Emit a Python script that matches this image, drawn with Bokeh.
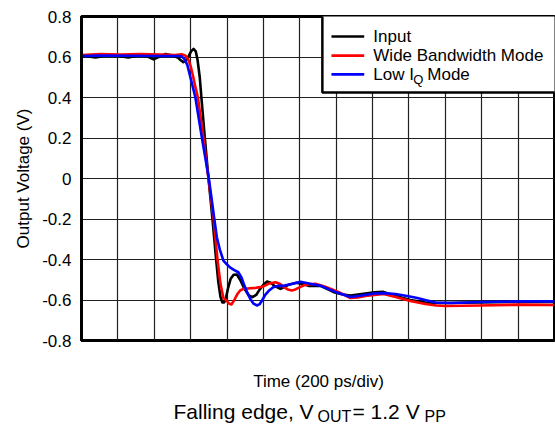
from bokeh.plotting import figure
from bokeh.models import Range1d, FixedTicker, Grid
from bokeh.layouts import column
from bokeh.core.properties import value
from bokeh.embed import file_html
from bokeh.resources import INLINE

FONT = "Liberation Sans"

# time in divisions (200 ps/div)
t_input = [0, 0.2, 0.385, 0.55, 0.66, 0.85, 1.02, 1.15, 1.29, 1.45, 1.62, 1.8, 1.98, 2.15, 2.31,
           2.5, 2.64, 2.72, 2.80, 2.87, 2.94, 3.01, 3.08, 3.14, 3.19, 3.25, 3.30, 3.39, 3.49, 3.60,
           3.70, 3.76, 3.82, 3.87, 3.92, 3.97, 4.03, 4.10, 4.18, 4.27, 4.36, 4.48, 4.60, 4.70, 4.80,
           4.89, 5.00, 5.10, 5.20, 5.30, 5.47, 5.69, 5.91, 6.10, 6.24, 6.57, 6.92, 7.15, 7.39, 7.60,
           7.80, 8.05, 8.30, 8.63, 9.04, 9.45, 9.75, 10.0, 10.96, 12.06, 13.0]
v_input = [0.605, 0.603, 0.598, 0.603, 0.607, 0.607, 0.605, 0.602, 0.598, 0.604, 0.612, 0.603, 0.588,
           0.602, 0.615, 0.607, 0.598, 0.585, 0.575, 0.582, 0.602, 0.628, 0.640, 0.628, 0.585, 0.500,
           0.390, 0.200, 0.0, -0.200, -0.400, -0.510, -0.585, -0.612, -0.612, -0.590, -0.540, -0.495,
           -0.475, -0.474, -0.500, -0.545, -0.578, -0.586, -0.575, -0.550, -0.525, -0.509, -0.515,
           -0.530, -0.545, -0.525, -0.515, -0.522, -0.530, -0.530, -0.560, -0.572, -0.578, -0.573,
           -0.568, -0.562, -0.560, -0.580, -0.600, -0.612, -0.615, -0.615, -0.612, -0.608, -0.610]

t_wide = [0, 0.52, 1.07, 1.62, 2.17, 2.58, 2.75, 2.85, 2.93, 3.00, 3.06, 3.12, 3.20, 3.35, 3.49,
          3.63, 3.74, 3.82, 3.90, 3.97, 4.05, 4.12, 4.20, 4.28, 4.36, 4.45, 4.56, 4.78, 4.97, 5.14,
          5.33, 5.45, 5.55, 5.67, 5.78, 5.88, 5.96, 6.15, 6.43, 6.70, 7.06, 7.39, 7.60, 7.80, 8.05,
          8.30, 8.63, 9.04, 9.45, 9.75, 10.0, 10.96, 12.06, 13.0]
v_wide = [0.610, 0.615, 0.612, 0.615, 0.612, 0.610, 0.613, 0.608, 0.590, 0.555, 0.510, 0.460, 0.400,
          0.200, 0.0, -0.200, -0.405, -0.520, -0.590, -0.600, -0.617, -0.622, -0.600, -0.572, -0.553,
          -0.545, -0.543, -0.540, -0.535, -0.520, -0.512, -0.520, -0.535, -0.548, -0.553, -0.548,
          -0.540, -0.525, -0.520, -0.535, -0.560, -0.590, -0.588, -0.580, -0.575, -0.570, -0.585,
          -0.605, -0.620, -0.627, -0.630, -0.627, -0.623, -0.625]

t_lowiq = [0, 0.52, 1.35, 2.17, 2.66, 2.75, 2.83, 2.91, 3.02, 3.13, 3.31, 3.50, 3.65, 3.72, 3.80,
           3.90, 4.00, 4.09, 4.20, 4.31, 4.40, 4.48, 4.56, 4.64, 4.73, 4.82, 4.90, 4.97, 5.05, 5.14,
           5.27, 5.41, 5.55, 5.80, 6.02, 6.29, 6.57, 6.98, 7.39, 7.60, 7.80, 8.05, 8.30, 8.63, 8.95,
           9.23, 9.50, 9.73, 10.14, 10.96, 12.06, 13.0]
v_lowiq = [0.605, 0.607, 0.606, 0.605, 0.605, 0.603, 0.590, 0.560, 0.480, 0.400, 0.200, 0.0, -0.200,
           -0.290, -0.350, -0.405, -0.425, -0.440, -0.452, -0.463, -0.490, -0.530, -0.565, -0.595,
           -0.618, -0.627, -0.620, -0.600, -0.575, -0.556, -0.537, -0.530, -0.530, -0.520, -0.510,
           -0.520, -0.530, -0.560, -0.585, -0.580, -0.575, -0.568, -0.566, -0.570, -0.580, -0.590,
           -0.602, -0.612, -0.615, -0.610, -0.607, -0.607]

y_ticks = [-0.8, -0.6, -0.4, -0.2, 0.0, 0.2, 0.4, 0.6, 0.8]
y_labels = ["-0.8", "-0.6", "-0.4", "-0.2", "0", "0.2", "0.4", "0.6", "0.8"]
x_grid = list(range(0, 14))

series_names = ["Input", "Wide Bandwidth Mode", "Low I"]
series_colors = ["black", "#FF0000", "#0000FF"]

TOP_H = 352
p = figure(width=555, height=TOP_H, output_backend="svg", toolbar_location=None,
           x_range=Range1d(0, 13), y_range=Range1d(-0.8, 0.8), x_axis_type=None,
           min_border_left=81, min_border_top=16, min_border_right=1, min_border_bottom=TOP_H - 340)
p.background_fill_color = "white"
p.border_fill_color = "white"
p.outline_line_color = "black"
p.outline_line_width = 3

p.yaxis.ticker = FixedTicker(ticks=y_ticks)
p.yaxis.major_label_overrides = {t: l for t, l in zip(y_ticks, y_labels)}
p.yaxis.major_tick_out = 0
p.yaxis.major_tick_in = 0
p.yaxis.minor_tick_out = 0
p.yaxis.minor_tick_in = 0
p.yaxis.axis_line_color = "black"
p.yaxis.axis_line_width = 3
p.yaxis.major_label_text_font = FONT
p.yaxis.major_label_text_font_size = "17px"
p.yaxis.major_label_text_color = "black"
p.yaxis.major_label_standoff = 10
p.yaxis.axis_label = "Output Voltage (V)"
p.yaxis.axis_label_text_font = FONT
p.yaxis.axis_label_text_font_size = "17px"
p.yaxis.axis_label_text_font_style = "normal"
p.yaxis.axis_label_text_color = "black"
p.yaxis.axis_label_standoff = 6

p.ygrid.grid_line_color = "#202020"
p.ygrid.grid_line_width = 1.2
p.add_layout(Grid(dimension=0, ticker=FixedTicker(ticks=x_grid), grid_line_color="#202020",
                  grid_line_width=1.2))

p.line(t_input, v_input, line_color=series_colors[0], line_width=2.6, line_join="round")
p.line(t_wide, v_wide, line_color=series_colors[1], line_width=2.6, line_join="round")
p.line(t_lowiq, v_lowiq, line_color=series_colors[2], line_width=2.6, line_join="round")

# legend box
p.quad(left=[6.62], right=[13.3], bottom=[0.425], top=[0.85], fill_color="white",
       line_color="black", line_width=2.5)
rows_y = [0.701, 0.607, 0.514]
for name, color, ry in zip(series_names, series_colors, rows_y):
    p.line([6.87, 7.77], [ry, ry], line_color=color, line_width=2.6)
    p.text(x=[8.02], y=[ry], text=[name], text_font=value(FONT), text_font_size="17px",
           text_baseline="middle", text_color="black")
p.text(x=[8.02], y=[rows_y[2]], text=["Q"], x_offset=40, y_offset=5, text_font=value(FONT),
       text_font_size="13px", text_baseline="middle", text_color="black")
p.text(x=[8.02], y=[rows_y[2]], text=[" Mode"], x_offset=54, text_font=value(FONT),
       text_font_size="17px", text_baseline="middle", text_color="black")

# lower panel (page pixel coordinates): x axis label and caption
BOT_H = 74
p2 = figure(width=555, height=BOT_H, output_backend="svg", toolbar_location=None,
            x_range=Range1d(81, 554), y_range=Range1d(TOP_H + BOT_H, TOP_H),
            x_axis_type=None, y_axis_type=None,
            min_border_left=81, min_border_right=1, min_border_top=0, min_border_bottom=0)
p2.outline_line_color = None
p2.background_fill_color = "white"
p2.border_fill_color = "white"

def txt(s, x, y, size, align="left"):
    p2.text(x=[x], y=[y], text=[s], text_font=value(FONT), text_font_size=size,
            text_align=align, text_baseline="alphabetic", text_color="black")

txt("Time (200 ps/div)", 318, 381, "17px", align="center")
txt("Falling edge, V", 173, 411, "21px")
txt("OUT", 317, 416, "16px")
txt(" = 1.2 V", 352, 411, "21px")
txt("PP", 424, 416, "16px")

layout = column(p, p2, spacing=0)
open("out.html", "w").write(file_html(layout, INLINE))
